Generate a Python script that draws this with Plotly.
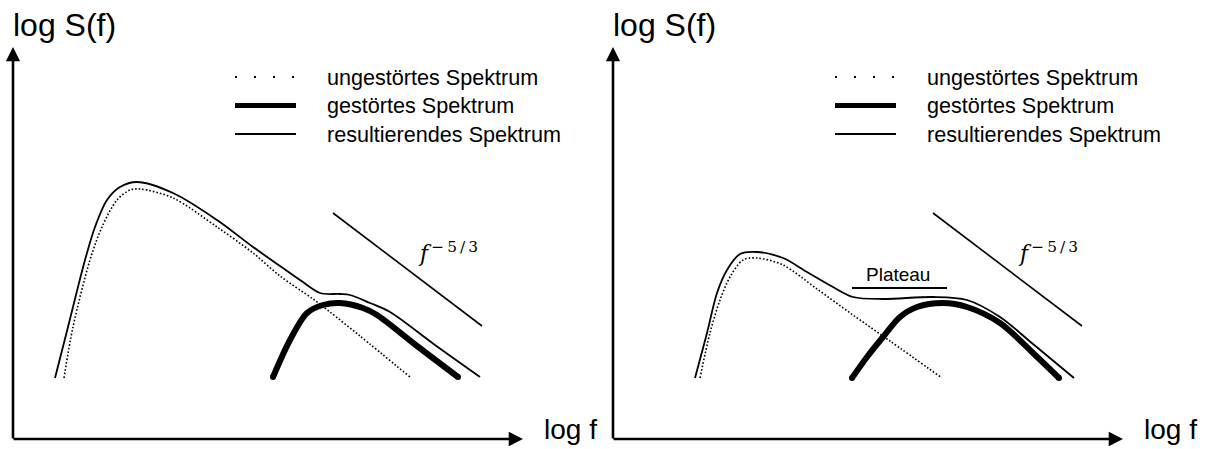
import plotly.graph_objects as go

# ---- Data (schematic units: x = log f, y = log S(f)) ----
# Left panel
L_res_x = [42, 55, 72, 82, 94, 107, 124, 160, 204, 240, 267, 287, 307, 327, 337, 357, 377, 422, 467]
L_res_y = [61, 112, 179, 212, 239, 252, 257, 246, 219, 192, 173, 159, 146, 145, 144, 136, 127, 94, 62]
L_ung_x = [51, 60, 77, 89, 104, 117, 127, 160, 204, 240, 267, 300, 317, 347, 397]
L_ung_y = [61, 112, 179, 212, 239, 249, 250, 241, 212, 186, 163, 140, 127, 103, 62]
L_ges_x = [260, 277, 294, 310, 327, 350, 364, 404, 445]
L_ges_y = [62, 99, 126, 134, 136, 131, 124, 93, 62]

# Right panel
R_res_x = [82, 94, 104, 114, 127, 144, 170, 194, 220, 240, 270, 320, 354, 387, 420, 461]
R_res_y = [61, 106, 146, 169, 185, 187, 181, 167, 152, 142, 140, 142, 139, 122, 95, 61]
R_ung_x = [87, 97, 107, 117, 130, 144, 170, 204, 240, 277, 329]
R_ung_y = [61, 106, 139, 162, 179, 181, 174, 150, 124, 98, 61]
R_ges_x = [239, 254, 270, 287, 304, 330, 354, 387, 420, 446]
R_ges_y = [61, 82, 102, 122, 132, 136, 132, 116, 86, 61]

# f^(-5/3) reference slope
slope_x = [320, 469]
slope_y = [226, 113]

legend_labels = ["ungestörtes Spektrum", "gestörtes Spektrum", "resultierendes Spektrum"]
y_label = "log S(f)"
x_label = "log f"
slope_label = "<i>f</i><sup>\u2009−\u20095\u2009/\u20093</sup>"
plateau_label = "Plateau"

# ---- Figure ----
FONT = "Liberation Sans"
fig = go.Figure()

panels = [
    dict(xa="x", ya="y", res=(L_res_x, L_res_y), ung=(L_ung_x, L_ung_y), ges=(L_ges_x, L_ges_y), plateau=False),
    dict(xa="x2", ya="y2", res=(R_res_x, R_res_y), ung=(R_ung_x, R_ung_y), ges=(R_ges_x, R_ges_y), plateau=True),
]

annotations = []
shapes = []
for p in panels:
    xa, ya = p["xa"], p["ya"]
    # undisturbed spectrum (dotted)
    fig.add_trace(go.Scatter(x=p["ung"][0], y=p["ung"][1], xaxis=xa, yaxis=ya, mode="lines",
                             line=dict(color="black", width=1.6, dash="1.6px,2px", shape="spline", smoothing=0.9),
                             showlegend=False, hoverinfo="skip"))
    # resulting spectrum (thin)
    fig.add_trace(go.Scatter(x=p["res"][0], y=p["res"][1], xaxis=xa, yaxis=ya, mode="lines",
                             line=dict(color="black", width=1.8, shape="spline", smoothing=0.9),
                             showlegend=False, hoverinfo="skip"))
    # disturbed spectrum (thick)
    gx, gy = p["ges"]
    fig.add_trace(go.Scatter(x=gx, y=gy, xaxis=xa, yaxis=ya, mode="lines",
                             line=dict(color="black", width=6, shape="spline", smoothing=0.9),
                             showlegend=False, hoverinfo="skip"))
    fig.add_trace(go.Scatter(x=[gx[0], gx[-1]], y=[gy[0], gy[-1]], xaxis=xa, yaxis=ya, mode="markers",
                             marker=dict(color="black", size=6, symbol="circle"),
                             showlegend=False, hoverinfo="skip"))
    # slope line
    fig.add_trace(go.Scatter(x=slope_x, y=slope_y, xaxis=xa, yaxis=ya, mode="lines",
                             line=dict(color="black", width=1.6),
                             showlegend=False, hoverinfo="skip"))

    # axes with arrows
    annotations.append(dict(x=510, y=0, ax=-1, ay=0, xref=xa, yref=ya, axref=xa, ayref=ya,
                            text="", showarrow=True, arrowhead=2, arrowsize=1.1, arrowwidth=2.6, arrowcolor="black"))
    annotations.append(dict(x=0, y=392, ax=0, ay=-1, xref=xa, yref=ya, axref=xa, ayref=ya,
                            text="", showarrow=True, arrowhead=2, arrowsize=1.1, arrowwidth=2.6, arrowcolor="black"))
    # axis labels
    annotations.append(dict(x=-2, y=414, xref=xa, yref=ya, text=y_label, showarrow=False,
                            xanchor="left", yanchor="middle", font=dict(family=FONT, size=32, color="black")))
    annotations.append(dict(x=529, y=10, xref=xa, yref=ya, text=x_label, showarrow=False,
                            xanchor="left", yanchor="middle", font=dict(family=FONT, size=28, color="black")))
    # slope label
    annotations.append(dict(x=403, y=187, xref=xa, yref=ya, text=slope_label, showarrow=False,
                            xanchor="left", yanchor="middle", font=dict(family="DejaVu Serif", size=22, color="black")))

    # legend
    for i, lab in enumerate(legend_labels):
        yy = 362 - i * 28.5
        annotations.append(dict(x=312, y=yy, xref=xa, yref=ya, text=lab, showarrow=False,
                                xanchor="left", yanchor="middle", font=dict(family=FONT, size=21.6, color="black")))
        if i == 0:
            ln = dict(color="black", width=2, dash="2px,17px")
        elif i == 1:
            ln = dict(color="black", width=5)
        else:
            ln = dict(color="black", width=2)
        shapes.append(dict(type="line", xref=xa, yref=ya, x0=222, x1=283, y0=yy, y1=yy, line=ln))

    if p["plateau"]:
        shapes.append(dict(type="line", xref=xa, yref=ya, x0=239, x1=334, y0=151, y1=151,
                           line=dict(color="black", width=2)))
        annotations.append(dict(x=285, y=165, xref=xa, yref=ya, text=plateau_label, showarrow=False,
                                xanchor="center", yanchor="middle", font=dict(family=FONT, size=19, color="black")))

ax_common = dict(visible=False, fixedrange=True)
fig.update_layout(
    width=1208, height=449,
    margin=dict(l=0, r=0, t=0, b=0),
    paper_bgcolor="white", plot_bgcolor="white",
    xaxis=dict(domain=[0, 600 / 1208], range=[-13, 587], **ax_common),
    xaxis2=dict(domain=[600 / 1208, 1200 / 1208], range=[-13, 587], **ax_common),
    yaxis=dict(domain=[0, 1], range=[-10, 439], anchor="x", **ax_common),
    yaxis2=dict(domain=[0, 1], range=[-10, 439], anchor="x2", **ax_common),
    annotations=annotations,
    shapes=shapes,
    showlegend=False,
)

fig.write_html("out.html")
